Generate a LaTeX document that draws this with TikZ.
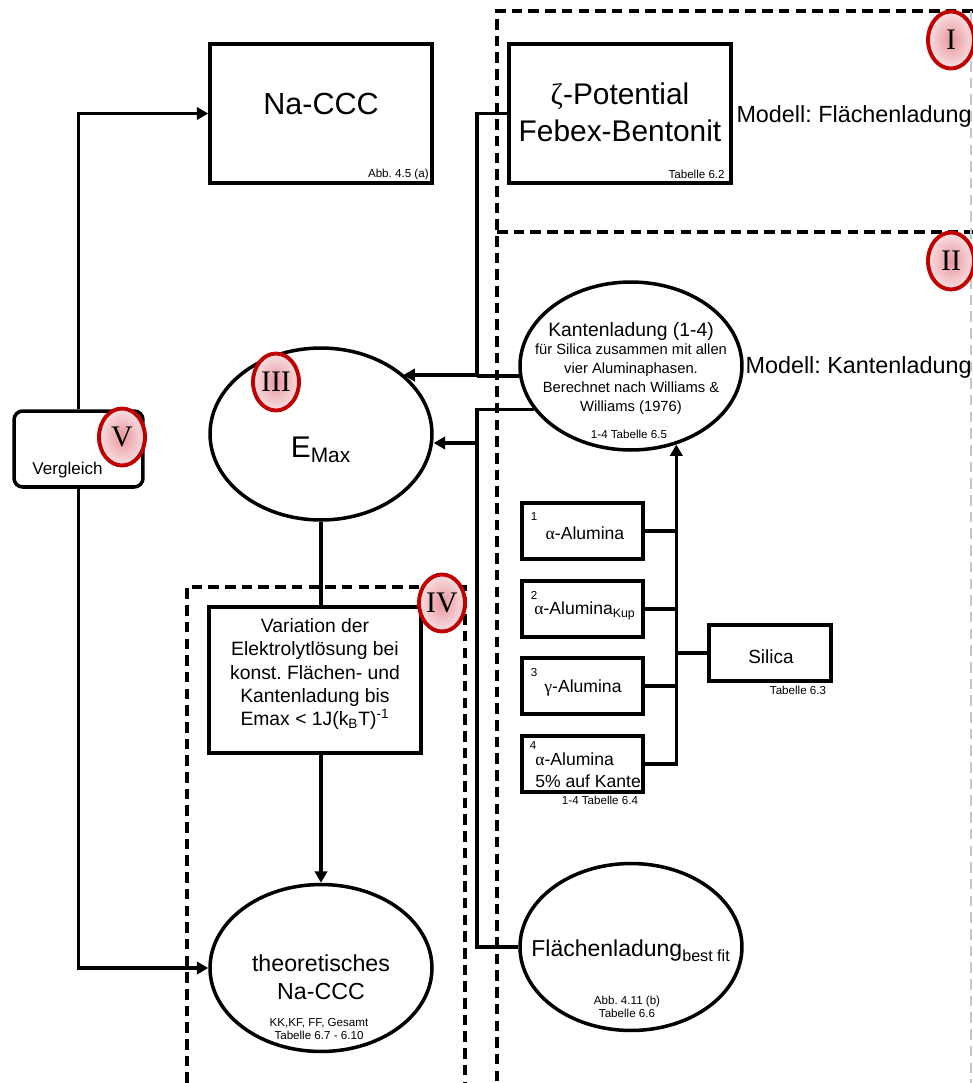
\documentclass[tikz,border=0pt]{standalone}
\usepackage{fontspec}
\setmainfont{Liberation Sans}
\newfontfamily\numfont{Liberation Serif}
\usetikzlibrary{shapes.geometric,arrows.meta}
\definecolor{darkred}{RGB}{192,0,0}
\definecolor{rosa}{RGB}{232,150,158}
\tikzset{>={Triangle[length=6.5pt,width=7pt]}}
\tikzset{
  box/.style={draw,line width=2pt,inner sep=0pt},
  oval/.style={draw,ellipse,line width=2pt,inner sep=0pt,minimum width=4.44cm},
  link/.style={line width=2pt},
  zone/.style={line width=1.8pt,dash pattern=on 6pt off 3.5pt},
  edge zone/.style={line width=0.7pt,gray!45,dash pattern=on 6pt off 3.5pt},
  txt/.style={inner sep=0pt,align=center},
  reftext/.style={txt,font=\fontsize{6.6}{7.6}\selectfont},
  numeral/.style={ellipse,draw=darkred,line width=2.2pt,inner sep=0pt,
    minimum width=0.92cm,minimum height=1.14cm,inner color=rosa,outer color=rosa!30,
    font=\numfont\fontsize{17}{17}\selectfont}
}
\newcommand{\gr}[1]{{\numfont #1}}
\frenchspacing

\begin{document}
\begin{tikzpicture}[x=0.02cm,y=-0.02cm]
    \useasboundingbox (0,0) rectangle (973,1083);
    % model zones
    \draw[zone] (973,11) -- (497,11) -- (497,1083);
    \draw[zone] (497,232) -- (973,232);
    \draw[edge zone] (971,11) -- (971,1083);
    \draw[zone] (187,1083) -- (187,587) -- (465,587) -- (465,1083);

    % experiment
    \node[box,minimum width=4.44cm,minimum height=2.78cm] (naccc) at (321,113.5) {};
    \node[txt,font=\fontsize{17.4}{21}\selectfont] (naccc-txt) at (321,104) {Na-CCC};
    \node[reftext,anchor=east] (naccc-ref) at (429,174) {Abb. 4.5 (a)};

    \node[box,minimum width=4.44cm,minimum height=2.78cm] (zeta) at (620,113.5) {};
    \node[txt,font=\fontsize{17}{21}\selectfont] (zeta-txt) at (620,112) {\gr{ζ}-Potential\\Febex-Bentonit};
    \node[reftext,anchor=east] (zeta-ref) at (725,174) {Tabelle 6.2};
    \node[txt,anchor=east,font=\fontsize{13.3}{16}\selectfont] (model-f) at (972,116) {Modell: Flächenladung};

    % edge charge
    \node[oval,minimum height=3.36cm] (kanten) at (631,366) {};
    \node[txt,font=\fontsize{11}{13}\selectfont] (kanten-head) at (631,331) {Kantenladung (1-4)};
    \node[txt,font=\fontsize{8.4}{10.8}\selectfont] (kanten-txt) at (631,379)
        {für Silica zusammen mit allen\\vier Aluminaphasen.\\Berechnet nach Williams \&\\Williams (1976)};
    \node[reftext] (kanten-ref) at (629,434) {1-4 Tabelle 6.5};
    \node[txt,anchor=east,font=\fontsize{13.3}{16}\selectfont] (model-k) at (972,367) {Modell: Kantenladung};

    % energy barrier
    \node[oval,minimum height=3.44cm] (emax) at (321,434) {};
    \node[txt,font=\fontsize{17}{20}\selectfont] (emax-txt) at (321,450) {E\textsubscript{Max}};

    \node[box,rounded corners=5pt,minimum width=2.58cm,minimum height=1.52cm] (vgl) at (78.5,449) {};
    \node[txt,font=\fontsize{9.7}{11}\selectfont] (vgl-txt) at (67.5,470) {Vergleich};

    \node[box,minimum width=4.24cm,minimum height=2.92cm] (var) at (315,680) {};
    \node[txt,font=\fontsize{11}{13.2}\selectfont] (var-txt) at (315,674)
        {Variation der\\Elektrolytlösung bei\\konst. Flächen- und\\Kantenladung bis\\Emax < 1J(k\textsubscript{B}T)\textsuperscript{-1}};

    \node[oval,minimum height=3.34cm] (theo) at (321,968) {};
    \node[txt,font=\fontsize{13.2}{15.9}\selectfont] (theo-txt) at (321,977) {theoretisches\\Na-CCC};
    \node[reftext] (theo-ref) at (319,1029) {KK,KF, FF, Gesamt\\Tabelle 6.7 - 6.10};

    \node[oval,minimum height=3.34cm] (flaechen) at (631,947) {};
    \node[txt,font=\fontsize{13.1}{15}\selectfont] (flaechen-txt) at (631,951) {Flächenladung\textsubscript{best fit}};
    \node[reftext] (flaechen-ref) at (627,1007) {Abb. 4.11 (b)\\Tabelle 6.6};

    % alumina phases and silica
    \foreach \i/\y in {1/531,2/609,3/686} {
      \node[box,minimum width=2.42cm,minimum height=1.12cm] (a\i) at (582.5,\y) {};
      \node[txt,font=\fontsize{6.6}{7}\selectfont] (a\i-num) at (534,\y-14) {\i};
    }
    \node[box,minimum width=2.42cm,minimum height=1.12cm] (a4) at (582.5,764) {};
    \node[txt,font=\fontsize{6.6}{7}\selectfont] (a4-num) at (533,745) {4};
    \node[txt,font=\fontsize{10}{12}\selectfont] (a1-txt) at (585,533) {\gr{α}-Alumina};
    \node[txt,font=\fontsize{10}{12}\selectfont] (a2-txt) at (585,611) {\gr{α}-Alumina\textsubscript{Kup}};
    \node[txt,font=\fontsize{10}{12}\selectfont] (a3-txt) at (583,688) {\gr{γ}-Alumina};
    \node[txt,align=left,anchor=west,font=\fontsize{10}{12.5}\selectfont] (a4-txt) at (535,770) {\gr{α}-Alumina\\5\% auf Kante};
    \node[reftext] (a4-ref) at (600,800) {1-4 Tabelle 6.4};

    \node[box,minimum width=2.44cm,minimum height=1.12cm] (silica) at (770,653) {};
    \node[txt,font=\fontsize{10.8}{12}\selectfont] (silica-txt) at (771,657) {Silica};
    \node[reftext] (silica-ref) at (798,690) {Tabelle 6.3};

    % connectors
    \coordinate (bus) at (675,653);
    \draw[link,->] (a4.east) -| (kanten.-60);
    \foreach \i in {1,2,3} \draw[link] (a\i.east) -- (a\i.east -| bus);
    \draw[link] (silica.west) -- (bus);

    \coordinate (j1) at (477,375);
    \coordinate (j2) at (477,443);
    \draw[link] (zeta.west) -| (j1);
    \draw[link] (kanten.185) -- (kanten.185 -| j1);
    \draw[link,->] (j1) -- (j1 -| emax.36);
    \draw[link] (kanten.204) -| (j2) |- (flaechen.west);
    \draw[link,->] (j2) -- (j2 -| emax.east);

    \draw[link,->] (vgl.north) |- (naccc.west);
    \draw[link,->] (vgl.south) |- (theo.west);
    \draw[link] (emax.south) -- (emax.south |- var.north);
    \draw[link,->] (var.south -| theo.north) -- (theo.north);

    % step numbers
    \node[numeral] (n1) at (951,40) {I};
    \node[numeral] (n2) at (951,261) {II};
    \node[numeral] (n3) at (276,382) {III};
    \node[numeral] (n4) at (442,603) {IV};
    \node[numeral] (n5) at (122,437) {V};
\end{tikzpicture}
\end{document}
